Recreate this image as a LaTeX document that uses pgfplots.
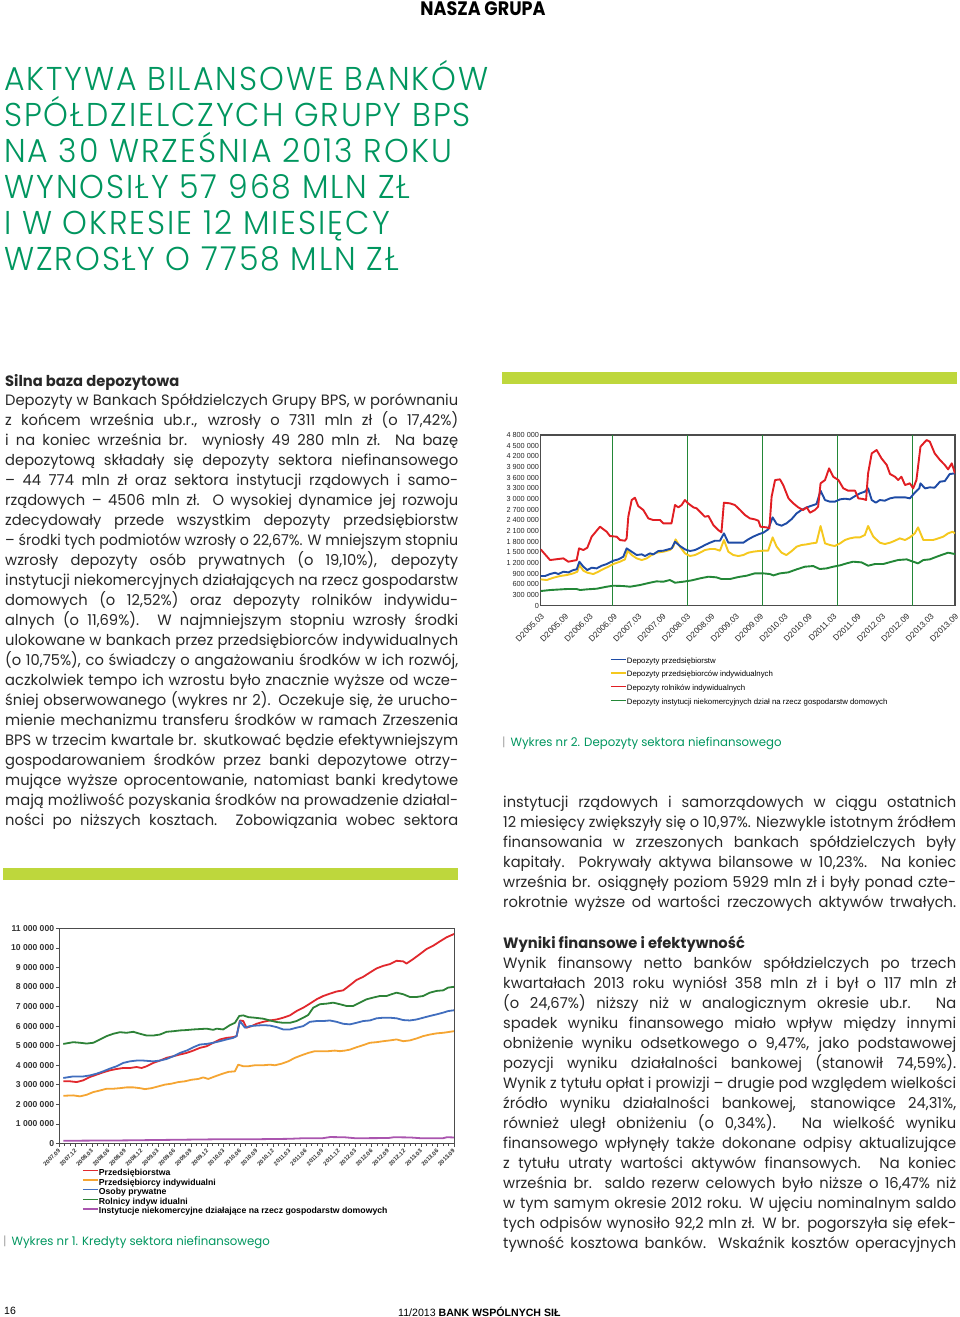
\documentclass[border=0pt]{standalone}
\usepackage{fontspec}
\usepackage{graphicx}
\usepackage{pgfplots}
\pgfplotsset{compat=1.18}
\setmainfont{Poppins}[FakeStretch=0.98]
\newfontfamily\titlef{Poppins Light}[FakeStretch=0.955, LetterSpace=6]
\newfontfamily\condf{Poppins}[FakeStretch=0.9]
\newfontfamily\arialf{Liberation Sans}
\definecolor{ttl}{RGB}{0,150,95}
\definecolor{lime}{RGB}{190,215,60}
\definecolor{txt}{RGB}{40,40,40}
\definecolor{cRed}{RGB}{225,30,35}
\definecolor{cBlue}{RGB}{30,75,165}
\definecolor{cYel}{RGB}{245,200,30}
\definecolor{cGrn}{RGB}{35,135,55}
\definecolor{kRed}{RGB}{225,40,45}
\definecolor{kOra}{RGB}{245,165,50}
\definecolor{kBlue}{RGB}{65,110,190}
\definecolor{kGrn}{RGB}{45,130,55}
\definecolor{kPur}{RGB}{170,85,175}
\newlength\colw
\setlength\colw{453pt}
\newcommand\jl[1]{\setbox0\hbox{#1}\ifdim\wd0>\colw\hbox to\colw{\resizebox{\colw}{\height}{#1}}\else\hbox to\colw{#1}\fi}
\newcommand\bodyf{\fontsize{15}{20}\selectfont\color{txt}}
\begin{document}
\begin{tikzpicture}[x=1pt,y=1pt]
\fill[white] (0,0) rectangle (960,-1317);
\path[use as bounding box] (0,0) rectangle (960,-1317);
% header
\node[anchor=base, inner sep=0] at (483,-15.5) {\condf\bfseries\fontsize{19.5}{20}\selectfont NASZA GRUPA};
% title
\begin{scope}[every node/.style={anchor=base west, inner sep=0, text=ttl}]
\node at (4,-90) {\titlef\fontsize{33}{36}\selectfont AKTYWA BILANSOWE BANKÓW};
\node at (4,-126) {\titlef\fontsize{33}{36}\selectfont SPÓŁDZIELCZYCH GRUPY BPS};
\node at (4,-162) {\titlef\fontsize{33}{36}\selectfont NA 30 WRZEŚNIA 2013 ROKU};
\node at (4,-198) {\titlef\fontsize{33}{36}\selectfont WYNOSIŁY 57 968 MLN ZŁ};
\node at (4,-234) {\titlef\fontsize{33}{36}\selectfont I W OKRESIE 12 MIESIĘCY};
\node at (4,-270) {\titlef\fontsize{33}{36}\selectfont WZROSŁY O 7758 MLN ZŁ};
\end{scope}
% left column
\node[anchor=base west, inner sep=0] at (5,-386) {\bodyf\bfseries Silna baza depozytowa};
\node[anchor=base west, inner sep=0] at (5,-405) {\bodyf\vtop{%
\jl{Depozyty w Bankach Spółdzielczych Grupy BPS, w porównaniu}
\jl{z końcem września ub.r., wzrosły o 7311 mln zł (o 17,42\%)}
\jl{i na koniec września br. wyniosły 49 280 mln zł. Na bazę}
\jl{depozytową składały się depozyty sektora niefinansowego}
\jl{– 44 774 mln zł oraz sektora instytucji rządowych i samo-}
\jl{rządowych – 4506 mln zł. O wysokiej dynamice jej rozwoju}
\jl{zdecydowały przede wszystkim depozyty przedsiębiorstw}
\jl{– środki tych podmiotów wzrosły o 22,67\%. W mniejszym stopniu}
\jl{wzrosły depozyty osób prywatnych (o 19,10\%), depozyty}
\jl{instytucji niekomercyjnych działających na rzecz gospodarstw}
\jl{domowych (o 12,52\%) oraz depozyty rolników indywidu-}
\jl{alnych (o 11,69\%). W najmniejszym stopniu wzrosły środki}
\jl{ulokowane w bankach przez przedsiębiorców indywidualnych}
\jl{(o 10,75\%), co świadczy o angażowaniu środków w ich rozwój,}
\jl{aczkolwiek tempo ich wzrostu było znacznie wyższe od wcze-}
\jl{śniej obserwowanego (wykres nr 2). Oczekuje się, że urucho-}
\jl{mienie mechanizmu transferu środków w ramach Zrzeszenia}
\jl{BPS w trzecim kwartale br. skutkować będzie efektywniejszym}
\jl{gospodarowaniem środków przez banki depozytowe otrzy-}
\jl{mujące wyższe oprocentowanie, natomiast banki kredytowe}
\jl{mają możliwość pozyskania środków na prowadzenie działal-}
\jl{ności po niższych kosztach. Zobowiązania wobec sektora}}};
% right column
\node[anchor=base west, inner sep=0] at (503,-807) {\bodyf\vtop{%
\jl{instytucji rządowych i samorządowych w ciągu ostatnich}
\jl{12 miesięcy zwiększyły się o 10,97\%. Niezwykle istotnym źródłem}
\jl{finansowania w zrzeszonych bankach spółdzielczych były}
\jl{kapitały. Pokrywały aktywa bilansowe w 10,23\%. Na koniec}
\jl{września br. osiągnęły poziom 5929 mln zł i były ponad czte-}
\jl{rokrotnie wyższe od wartości rzeczowych aktywów trwałych.}}};
\node[anchor=base west, inner sep=0] at (503,-948) {\bodyf\bfseries Wyniki finansowe i efektywność};
\node[anchor=base west, inner sep=0] at (503,-968) {\bodyf\vtop{%
\jl{Wynik finansowy netto banków spółdzielczych po trzech}
\jl{kwartałach 2013 roku wyniósł 358 mln zł i był o 117 mln zł}
\jl{(o 24,67\%) niższy niż w analogicznym okresie ub.r. Na}
\jl{spadek wyniku finansowego miało wpływ między innymi}
\jl{obniżenie wyniku odsetkowego o 9,47\%, jako podstawowej}
\jl{pozycji wyniku działalności bankowej (stanowił 74,59\%).}
\jl{Wynik z tytułu opłat i prowizji – drugie pod względem wielkości}
\jl{źródło wyniku działalności bankowej, stanowiące 24,31\%,}
\jl{również uległ obniżeniu (o 0,34\%). Na wielkość wyniku}
\jl{finansowego wpłynęły także dokonane odpisy aktualizujące}
\jl{z tytułu utraty wartości aktywów finansowych. Na koniec}
\jl{września br. saldo rezerw celowych było niższe o 16,47\% niż}
\jl{w tym samym okresie 2012 roku. W ujęciu nominalnym saldo}
\jl{tych odpisów wynosiło 92,2 mln zł. W br. pogorszyła się efek-}
\jl{tywność kosztowa banków. Wskaźnik kosztów operacyjnych}}};
% bars
\fill[lime] (502,-371.7) rectangle (957,-384);
\fill[lime] (3,-867.5) rectangle (458,-880);
% captions
\node[anchor=base west, inner sep=0, text=ttl] at (502,-746) {\fontsize{12}{14}\selectfont{\color{black!35}|}\hspace{5pt}Wykres nr 2. Depozyty sektora niefinansowego};
\node[anchor=base west, inner sep=0, text=ttl] at (3,-1245) {\fontsize{12}{14}\selectfont{\color{black!35}|}\hspace{5pt}Wykres nr 1. Kredyty sektora niefinansowego};
% footer
\node[anchor=base west, inner sep=0] at (4,-1314) {\arialf\fontsize{10.5}{12}\selectfont 16};
\node[anchor=base west, inner sep=0] at (398,-1316) {\arialf\fontsize{10.6}{12}\selectfont 11/2013 {\bfseries BANK WSPÓLNYCH SIŁ}};

% ---------------- Chart 2: deposits ----------------
\begin{axis}[
  at={(540.7pt,-605.7pt)}, anchor=south west,
  scale only axis, width=414.3pt, height=170.7pt,
  xmin=0, xmax=102, ymin=0, ymax=4800000,
  scaled y ticks=false,
  axis line style={draw=black!70, line width=1.1pt},
  tick style={draw=none},
  ytick={0,300000,600000,900000,1200000,1500000,1800000,2100000,2400000,2700000,3000000,3300000,3600000,3900000,4200000,4500000,4800000},
  yticklabels={0,300 000,600 000,900 000,1 200 000,1 500 000,1 800 000,2 100 000,2 400 000,2 700 000,3 000 000,3 300 000,3 600 000,3 900 000,4 200 000,4 500 000,4 800 000},
  yticklabel style={font=\arialf\fontsize{7.3}{8}\selectfont, text=black!85, inner sep=1.5pt},
  xtick={0,6,...,102},
  xticklabels={D2005.03,D2005.09,D2006.03,D2006.09,D2007.03,D2007.09,D2008.03,D2008.09,D2009.03,D2009.09,D2010.03,D2010.09,D2011.03,D2011.09,D2012.03,D2012.09,D2013.03,D2013.09},
  xticklabel style={font=\arialf\fontsize{8.3}{9}\selectfont, text=black!85, yshift=-9pt, xshift=2pt, rotate=45, anchor=east, inner sep=0pt},
  extra x ticks={17.6,36.1,54.6,73,91.5},
  extra x tick labels={},
  extra x tick style={grid=major, major grid style={draw=cGrn, line width=1.2pt}},
  every axis plot/.append style={line width=1.9pt, line join=round, no markers},
  legend cell align=left,
  legend image code/.code={\draw[#1, line width=1.4pt] (0pt,1.6pt) -- (15pt,1.6pt);},
  legend style={draw=none, fill=none, at={(0.167,-0.30)}, anchor=north west,
    font=\arialf\fontsize{7.8}{8}\selectfont, inner sep=0pt, row sep=5.6pt,
    nodes={inner sep=0.4pt},
    /tikz/every even column/.append style={column sep=3pt}},
]
\addplot[cGrn, forget plot] coordinates {(0,412500)(2.3,440600)(6.4,468750)(8.86,468750)(9.68,440600)(11.3,459400)(13.78,478000)(16.24,534400)(17.88,562500)(20.34,553000)(22.0,534400)(24.45,581250)(26.9,646900)(28.5,684400)(30.19,675000)(31.8,721900)(33.06,646900)(35.1,675000)(37.2,712500)(39.21,768750)(41.3,815600)(43.3,796900)(44.5,750000)(46.6,750000)(48.65,806250)(50.7,843750)(52.7,909400)(54.8,909400)(56.4,890600)(57.3,853100)(58.9,909400)(60.95,937500)(63.0,1021900)(65.05,1096900)(67.1,1115600)(68.7,1031250)(70.4,1050000)(72.0,1096900)(73.7,1134400)(75.3,1190600)(76.9,1237500)(79.0,1218750)(80.6,1125000)(82.3,1171900)(84.3,1171900)(86.4,1237500)(88.0,1284400)(90.1,1303000)(91.7,1237500)(92.9,1190600)(94.2,1284400)(95.8,1303000)(97.5,1378000)(99.1,1443750)(100.3,1490600)(102,1453000)};
\addplot[cYel, forget plot] coordinates {(0,740600)(1.48,721900)(3.12,787500)(4.76,834400)(6.4,862500)(8.04,909400)(9.02,956250)(9.52,1143750)(10.5,984400)(11.48,928000)(12.96,890600)(14.19,956250)(15.42,1031250)(16.65,1096900)(17.88,1171900)(19.52,1237500)(20.75,1303000)(21.4,1546900)(22.4,1425000)(23.63,1331250)(24.86,1284400)(26.09,1331250)(27.3,1425000)(28.5,1490600)(30.19,1518750)(31.8,1565600)(32.65,1659400)(33.2,1865600)(34.29,1659400)(35.52,1471900)(36.75,1396900)(37.98,1425000)(39.21,1490600)(40.44,1565600)(41.67,1593750)(42.9,1593750)(44.13,1546900)(45.12,1846900)(46.19,1518750)(47.42,1425000)(48.65,1396900)(49.88,1425000)(51.1,1490600)(52.3,1518750)(53.6,1537500)(54.8,1546900)(56.0,1546900)(57.1,1921900)(58.1,1659400)(59.3,1490600)(60.5,1425000)(61.8,1537500)(63.0,1659400)(64.2,1706250)(65.5,1725000)(66.7,1753000)(67.9,1771900)(68.9,2240600)(70.0,1753000)(71.2,1706250)(72.4,1678000)(73.7,1753000)(74.9,1846900)(76.1,1893750)(77.4,1921900)(78.6,1921900)(79.8,1987500)(80.6,2240600)(81.9,1940600)(83.5,1771900)(84.7,1734400)(86.0,1771900)(87.2,1828000)(88.4,1893750)(89.7,1846900)(90.9,1921900)(92.1,2034400)(92.9,2203000)(94.2,1846900)(95.4,1846900)(96.6,1846900)(97.9,1893750)(99.1,1940600)(100.3,2034400)(101.4,2081250)(102,2034400)};
\addplot[cBlue, forget plot] coordinates {(0,834000)(1.07,834000)(2.3,890600)(3.53,928000)(4.35,890600)(5.58,956000)(6.81,937500)(8.04,1003000)(8.86,1022000)(9.52,1237500)(10.5,1097000)(11.48,1003000)(12.55,1068750)(13.78,1050000)(15.01,1125000)(16.24,1171900)(17.88,1265600)(19.11,1303000)(20.34,1378000)(21.16,1612500)(22.4,1518750)(23.63,1425000)(24.86,1443750)(25.68,1396900)(26.9,1471900)(27.73,1443750)(28.96,1537500)(30.19,1546900)(31.42,1584375)(32.24,1612500)(33.06,1800000)(34.29,1678000)(35.52,1584000)(36.75,1537500)(37.98,1565600)(39.21,1631250)(40.44,1706250)(41.67,1771900)(42.9,1828000)(44.13,1828000)(45.12,2034000)(46.19,1771900)(47.42,1771900)(48.65,1771900)(49.88,1771900)(51.1,1865600)(52.3,1940600)(53.6,2006250)(54.8,2053000)(56.0,2146900)(57.1,2484000)(58.1,2296900)(59.3,2250000)(60.5,2315600)(61.8,2437500)(63.0,2596900)(64.2,2690600)(65.5,2765600)(66.7,2812500)(67.9,2859000)(68.9,3234000)(70.0,2971900)(71.2,2925000)(72.4,2925000)(73.7,2990600)(74.9,3009000)(76.1,2990600)(77.4,3084000)(78.6,3159000)(79.8,3206250)(80.6,3300000)(81.5,2971900)(82.5,2896900)(83.5,2971900)(84.7,2953000)(86.0,3018750)(87.2,3046900)(88.4,3046900)(89.7,3046900)(90.9,3018750)(92.1,3178000)(93.2,3300000)(93.5,3440600)(94.6,3300000)(95.8,3328000)(97.0,3318750)(98.3,3487500)(99.5,3506000)(100.7,3703000)(102,3722000)};
\addplot[cRed, forget plot] coordinates {(0,1584000)(2.3,1284000)(5.58,1331000)(6.81,1237500)(8.86,1284000)(9.43,1612500)(10.5,1565600)(11.48,1631000)(12.55,1940600)(14.6,2221900)(16.24,2081000)(17.06,1959000)(18.7,1940600)(19.52,1846900)(20.75,1828000)(21.16,1893750)(21.57,2503000)(22.4,2971900)(23.2,3037500)(24.0,2803000)(25.27,2690600)(26.5,2456000)(27.7,2409000)(29.4,2409000)(30.2,2315600)(32.2,2315600)(33.06,2831000)(33.9,2765600)(34.7,2831000)(35.5,2971900)(36.3,2878000)(37.6,2765600)(38.4,2737500)(39.2,2643750)(40.4,2503000)(41.3,2521900)(42.5,2268750)(43.7,2128000)(44.5,2062500)(45.1,2896900)(46.6,2878000)(47.8,2831000)(49.1,2690600)(50.3,2550000)(51.5,2456000)(52.7,2428000)(53.6,2390600)(54.1,2221900)(55.6,2203000)(56.3,2175000)(56.85,3065600)(57.7,3534000)(58.9,3553000)(59.7,3393750)(61.0,3018750)(62.2,2878000)(63.4,2765600)(64.6,2690600)(65.5,2765600)(66.3,2615600)(67.5,2690600)(68.3,2784000)(68.9,3440600)(70.0,3534000)(71.0,3862500)(72.0,3628000)(73.3,3534000)(74.5,3300000)(75.7,3234000)(77.4,3234000)(78.2,3018750)(79.4,3000000)(80.1,2971900)(80.6,3721900)(81.5,4284000)(82.7,4378000)(83.9,4143750)(85.2,3956000)(86.0,3703000)(87.2,3628000)(88.0,3534000)(88.8,3628000)(89.7,3393750)(90.9,3440600)(91.7,3300000)(92.5,3534000)(93.5,4471900)(95.0,4659000)(95.8,4612500)(97.0,4284000)(98.3,4096900)(99.5,3956000)(100.3,3834000)(101.2,4003000)(102,3721900)};
\addlegendimage{cBlue}\addlegendentry{Depozyty przedsiębiorstw}
\addlegendimage{cYel}\addlegendentry{Depozyty przedsiębiorców indywidualnych}
\addlegendimage{cRed}\addlegendentry{Depozyty rolników indywidualnych}
\addlegendimage{cGrn}\addlegendentry{Depozyty instytucji niekomercyjnych dział na rzecz gospodarstw domowych}
\end{axis}

% ---------------- Chart 1: credits ----------------
\begin{axis}[
  at={(59.3pt,-1143.5pt)}, anchor=south west,
  scale only axis, width=394.7pt, height=215.2pt,
  xmin=0, xmax=72, ymin=0, ymax=11000000,
  scaled y ticks=false,
  axis line style={draw=black!70, line width=0.9pt},
  tick align=outside, xtick pos=bottom, ytick pos=left,
  major tick length=3.5pt, minor tick length=2.5pt,
  tick style={black!70, line width=0.7pt},
  ytick={0,1000000,2000000,3000000,4000000,5000000,6000000,7000000,8000000,9000000,10000000,11000000},
  yticklabels={0,1 000 000,2 000 000,3 000 000,4 000 000,5 000 000,6 000 000,7 000 000,8 000 000,9 000 000,10 000 000,11 000 000},
  yticklabel style={font=\arialf\bfseries\fontsize{8.6}{9}\selectfont, text=black!80, inner sep=1.5pt},
  xtick={0,3,...,72}, minor x tick num=2,
  xticklabels={2007.09,2007.12,2008.03,2008.06,2008.09,2008.12,2009.03,2009.06,2009.09,2009.12,2010.03,2010.06,2010.09,2010.12,2011.03,2011.06,2011.09,2011.12,2012.03,2012.06,2012.09,2012.12,2013.03,2013.06,2013.09},
  xticklabel style={font=\arialf\bfseries\fontsize{5.8}{6}\selectfont, text=black!80, yshift=-3pt, rotate=45, anchor=east, inner sep=0pt},
  every axis plot/.append style={line width=1.8pt, line join=round, no markers},
  legend cell align=left,
  legend image code/.code={\draw[#1, line width=1.4pt] (0pt,2.6pt) -- (15pt,2.6pt);},
  legend style={draw=none, fill=none, at={(0.0575,-0.117)}, anchor=north west,
    font=\arialf\bfseries\fontsize{8.7}{9}\selectfont, inner sep=0pt, row sep=1.2pt,
    nodes={inner sep=0.3pt},
    /tikz/every even column/.append style={column sep=3pt}},
]
\addplot[kRed] coordinates {(0.73,3180000)(1.95,3180000)(3.16,3140000)(4.38,3230000)(5.59,3400000)(6.81,3520000)(8.02,3640000)(9.24,3740000)(10.46,3810000)(11.67,3860000)(12.89,3860000)(14.1,3910000)(15.02,3860000)(15.93,3950000)(17.14,4120000)(18.36,4240000)(19.57,4380000)(20.79,4460000)(22.0,4550000)(23.22,4630000)(24.44,4750000)(25.65,4890000)(26.87,4970000)(28.09,5150000)(29.3,5320000)(30.52,5400000)(31.73,5440000)(32.34,5490000)(32.95,6290000)(33.56,6260000)(34.16,5920000)(35.08,6000000)(35.99,6120000)(37.2,6220000)(38.42,6290000)(39.64,6340000)(40.85,6430000)(42.07,6550000)(43.28,6770000)(44.5,6940000)(45.71,7150000)(46.93,7370000)(48.15,7540000)(49.36,7660000)(50.58,7770000)(51.79,7830000)(53.01,8090000)(54.22,8360000)(55.44,8520000)(56.66,8740000)(57.87,8950000)(59.09,9080000)(60.3,9170000)(61.52,9340000)(62.74,9310000)(63.34,9200000)(64.56,9430000)(65.78,9680000)(66.99,9940000)(68.21,10110000)(69.42,10330000)(70.64,10540000)(72,10710000)};
\addplot[kOra] coordinates {(0.73,2440000)(2.55,2460000)(3.77,2410000)(4.98,2490000)(6.2,2630000)(7.42,2710000)(8.63,2800000)(9.85,2800000)(11.06,2830000)(12.28,2870000)(13.5,2870000)(14.71,2830000)(15.62,2780000)(16.84,2830000)(18.05,2920000)(19.27,3010000)(20.49,3060000)(21.7,3140000)(22.92,3180000)(24.13,3260000)(25.35,3300000)(26.26,3380000)(27.17,3300000)(28.39,3430000)(29.6,3550000)(30.82,3660000)(32.04,3690000)(32.64,4030000)(33.56,3950000)(34.47,3950000)(35.68,4000000)(37.2,4000000)(38.42,4030000)(39.33,4000000)(40.55,4080000)(41.76,4200000)(42.98,4380000)(44.19,4510000)(45.41,4630000)(46.63,4720000)(47.84,4720000)(49.06,4720000)(50.27,4750000)(51.19,4720000)(52.1,4750000)(53.01,4800000)(54.22,4920000)(55.44,5030000)(56.66,5150000)(57.87,5180000)(59.09,5230000)(60.3,5270000)(61.52,5320000)(62.74,5230000)(63.95,5270000)(65.17,5370000)(66.38,5490000)(67.6,5570000)(68.81,5630000)(70.03,5660000)(72,5740000)};
\addplot[kBlue] coordinates {(0.73,3350000)(2.55,3430000)(4.38,3430000)(5.59,3480000)(6.81,3570000)(8.02,3690000)(9.24,3830000)(10.46,3950000)(11.67,4120000)(12.89,4200000)(14.1,4240000)(15.32,4240000)(17.14,4200000)(18.36,4240000)(19.57,4320000)(20.79,4460000)(22.0,4630000)(23.22,4750000)(24.44,4920000)(25.65,5060000)(26.87,5090000)(28.09,5150000)(29.3,5230000)(30.52,5320000)(31.73,5400000)(32.34,5490000)(32.95,6260000)(33.86,5920000)(34.77,6000000)(35.99,6030000)(37.2,6050000)(38.42,6030000)(39.64,5950000)(40.85,5830000)(42.07,5830000)(43.28,5920000)(44.5,6000000)(45.71,6220000)(46.93,6260000)(48.15,6260000)(49.36,6290000)(50.58,6220000)(51.79,6120000)(53.01,6090000)(54.22,6170000)(55.44,6260000)(56.66,6290000)(57.87,6400000)(59.09,6430000)(60.3,6430000)(61.52,6400000)(62.74,6310000)(63.95,6290000)(65.17,6340000)(66.38,6430000)(67.6,6520000)(68.81,6600000)(70.03,6690000)(70.94,6770000)(72,6810000)};
\addplot[kGrn] coordinates {(0.73,5090000)(2.55,5180000)(3.77,5150000)(4.98,5110000)(6.2,5150000)(7.42,5320000)(8.63,5490000)(9.85,5610000)(11.06,5690000)(12.28,5660000)(13.5,5710000)(14.71,5610000)(15.93,5520000)(17.14,5520000)(18.36,5570000)(19.57,5710000)(20.79,5740000)(22.0,5780000)(23.22,5800000)(24.44,5830000)(25.65,5850000)(26.87,5870000)(28.09,5810000)(28.69,5870000)(29.91,5830000)(31.12,6050000)(32.04,6170000)(32.83,6520000)(33.56,6550000)(34.47,6460000)(35.68,6430000)(37.2,6380000)(38.42,6290000)(39.64,6210000)(40.85,6170000)(42.07,6170000)(43.28,6260000)(44.5,6430000)(45.41,6570000)(46.32,6940000)(47.54,7120000)(48.75,7150000)(49.97,7200000)(51.19,7120000)(52.4,7030000)(53.62,7030000)(54.83,7200000)(56.05,7370000)(57.26,7460000)(58.48,7540000)(59.7,7540000)(60.61,7630000)(61.52,7710000)(62.74,7630000)(63.95,7490000)(65.17,7490000)(66.38,7540000)(67.6,7710000)(68.81,7800000)(70.03,7830000)(70.94,7970000)(72,8010000)};
\addplot[kPur] coordinates {(0.73,140000)(6,150000)(12,160000)(18,180000)(24,200000)(30,220000)(36,220000)(42,240000)(44.5,270000)(48,270000)(49.4,330000)(52,320000)(54,270000)(60,280000)(61,320000)(64,310000)(66,270000)(70,270000)(70.7,320000)(72,310000)};
\legend{Przedsiębiorstwa,Przedsiębiorcy indywidualni,Osoby prywatne,Rolnicy indyw idualni,Instytucje niekomercyjne działające na rzecz gospodarstw domowych}
\end{axis}
\end{tikzpicture}
\end{document}
